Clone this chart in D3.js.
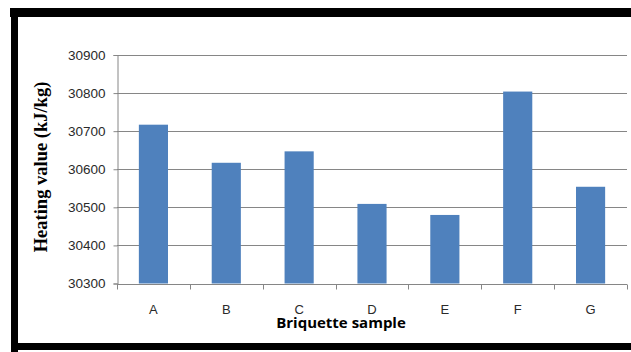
<!DOCTYPE html>
<html>
<head>
<meta charset="utf-8">
<script src="https://cdn.jsdelivr.net/npm/d3@7"></script>
<style>
  html, body { margin: 0; padding: 0; background: #fff; }
  svg { display: block; }
</style>
</head>
<body>
<svg id="chart" width="631" height="352"></svg>
<script>
// Briquette samples and their measured heating values (kJ/kg)
const samples = ["A", "B", "C", "D", "E", "F", "G"];
const heatingValues = [30717, 30617, 30647, 30509, 30480, 30804, 30554];
const yTicks = [30300, 30400, 30500, 30600, 30700, 30800, 30900];

const svg = d3.select("#chart");

// Black frame around the figure
const frame = svg.append("g").attr("fill", "#000");
frame.append("rect").attr("x", 10).attr("y", 8).attr("width", 621).attr("height", 9);
frame.append("rect").attr("x", 11).attr("y", 8).attr("width", 7).attr("height", 344);
frame.append("rect").attr("x", 11).attr("y", 343).attr("width", 620).attr("height", 7);

const plotLeft = 117, plotRight = 627, plotTop = 55, plotBottom = 283.5;

const x = d3.scaleBand().domain(samples).range([plotLeft, plotRight]).paddingInner(0.6).paddingOuter(0.3);
const y = d3.scaleLinear().domain([30300, 30900]).range([plotBottom, plotTop]);

const axisColor = "#868686";
const tickFont = "'Liberation Sans', Arial, sans-serif";

// Horizontal gridlines
svg.append("g")
  .selectAll("line")
  .data(yTicks.slice(1))
  .join("line")
  .attr("x1", plotLeft).attr("x2", plotRight)
  .attr("y1", d => Math.round(y(d)) + 0.5).attr("y2", d => Math.round(y(d)) + 0.5)
  .attr("stroke", axisColor).attr("stroke-width", 1.2);

// Bars
svg.append("g")
  .selectAll("rect")
  .data(samples.map((s, i) => ({ s, v: heatingValues[i] })))
  .join("rect")
  .attr("x", d => x(d.s))
  .attr("width", x.bandwidth())
  .attr("y", d => y(d.v))
  .attr("height", d => y(30300) - y(d.v))
  .attr("fill", "#4f81bd");

// Y axis
const yAxis = svg.append("g")
  .attr("transform", `translate(${plotLeft + 0.5},0)`)
  .call(d3.axisLeft(y).tickValues(yTicks).tickSize(4).tickPadding(8).tickFormat(d3.format("d")));
yAxis.select(".domain").attr("stroke", axisColor);
yAxis.selectAll(".tick line").attr("stroke", axisColor);
yAxis.selectAll(".tick text")
  .attr("font-family", tickFont).attr("font-size", 13.5).attr("fill", "#2a2a2a");

// X axis with tick marks at category boundaries
const xAxisG = svg.append("g").attr("transform", `translate(0,${Math.round(plotBottom) + 0.5})`);
xAxisG.append("line")
  .attr("x1", plotLeft).attr("x2", plotRight)
  .attr("stroke", axisColor);
const step = (plotRight - plotLeft) / samples.length;
xAxisG.selectAll("line.tk")
  .data(d3.range(samples.length + 1))
  .join("line")
  .attr("class", "tk")
  .attr("x1", i => Math.round(plotLeft + i * step) + 0.5)
  .attr("x2", i => Math.round(plotLeft + i * step) + 0.5)
  .attr("y1", 0).attr("y2", 5)
  .attr("stroke", axisColor);
xAxisG.selectAll("text")
  .data(samples)
  .join("text")
  .attr("x", d => x(d) + x.bandwidth() / 2)
  .attr("y", 29)
  .attr("text-anchor", "middle")
  .attr("font-family", tickFont).attr("font-size", 13).attr("fill", "#2a2a2a")
  .text(d => d);

// Axis titles
svg.append("text")
  .attr("x", 341).attr("y", 328)
  .attr("text-anchor", "middle")
  .attr("font-family", "'Open Sans', 'Liberation Sans', sans-serif")
  .attr("font-weight", "bold").attr("font-size", 15)
  .attr("fill", "#000")
  .text("Briquette sample");

svg.append("text")
  .attr("transform", "translate(47,167) rotate(-90)")
  .attr("text-anchor", "middle")
  .attr("font-family", "'Liberation Serif', 'Times New Roman', serif")
  .attr("font-weight", "bold").attr("font-size", 18.5)
  .attr("fill", "#000")
  .text("Heating value (kJ/kg)");
</script>
</body>
</html>
